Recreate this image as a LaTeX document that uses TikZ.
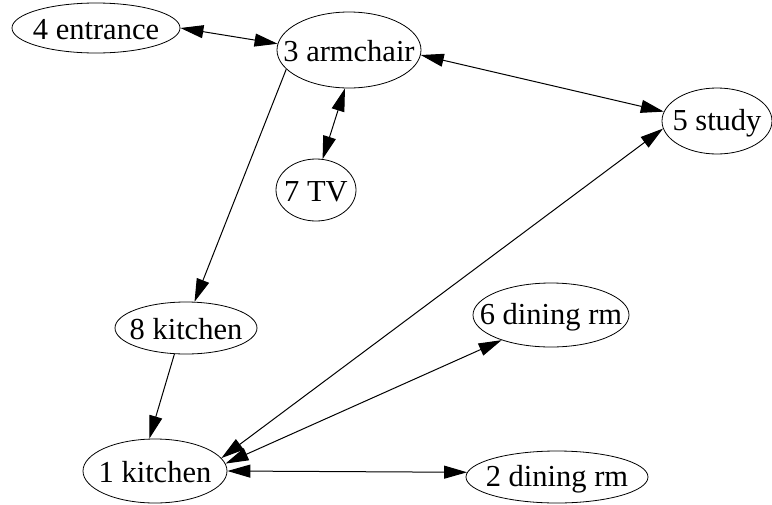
\documentclass[tikz,border=0pt]{standalone}
\usepackage{fontspec}
\setmainfont{Liberation Serif}
\usepackage{tikz}
\usetikzlibrary{arrows.meta,shapes.geometric}
\newcommand{\roomlabel}[1]{\makebox[0pt]{\rule[-3pt]{0pt}{28pt}#1}}

\begin{document}
\begin{tikzpicture}[x=1pt, y=-1pt, font=\fontsize{30.5}{36}\selectfont,
    >={Triangle[length=23pt, width=13pt]},
    room/.style={ellipse, draw, line width=0.8pt, inner sep=0pt},
    link/.style={<->, line width=1pt},
    oneway/.style={->, line width=1pt}]
  \useasboundingbox (0,0) rectangle (772,504);
  \node[room, minimum width=168pt, minimum height=50pt] (ent) at (96,28) {\roomlabel{4 entrance}};
  \node[room, minimum width=144pt, minimum height=76pt] (arm) at (349,50) {\roomlabel{3 armchair}};
  \node[room, minimum width=110pt, minimum height=66pt] (study) at (717,121) {\roomlabel{5 study}};
  \node[room, minimum width=80pt, minimum height=62pt] (tv) at (316,190) {\roomlabel{7 TV}};
  \node[room, minimum width=142pt, minimum height=52pt] (kitB) at (186,328) {\roomlabel{8 kitchen}};
  \node[room, minimum width=156pt, minimum height=64pt] (dinA) at (551,315) {\roomlabel{6 dining rm}};
  \node[room, minimum width=144pt, minimum height=64pt] (kitA) at (155,471) {\roomlabel{1 kitchen}};
  \node[room, minimum width=182pt, minimum height=52pt] (dinB) at (557,477) {\roomlabel{2 dining rm}};
  % connections
  \draw[link] (ent.east) -- (arm.175);
  \draw[link] (arm.-4) -- (study.170);
  \draw[link] (arm.264) -- (tv.78);
  \draw[oneway] (arm.197) -- (kitB.72);
  \draw[oneway] (kitB.246) -- (kitA.100);
  \draw[link] (kitA.11) -- (study.188);
  \draw[link] (kitA.6) -- (dinA.207);
  \draw[link] (kitA.east) -- (dinB.177);
\end{tikzpicture}
\end{document}
